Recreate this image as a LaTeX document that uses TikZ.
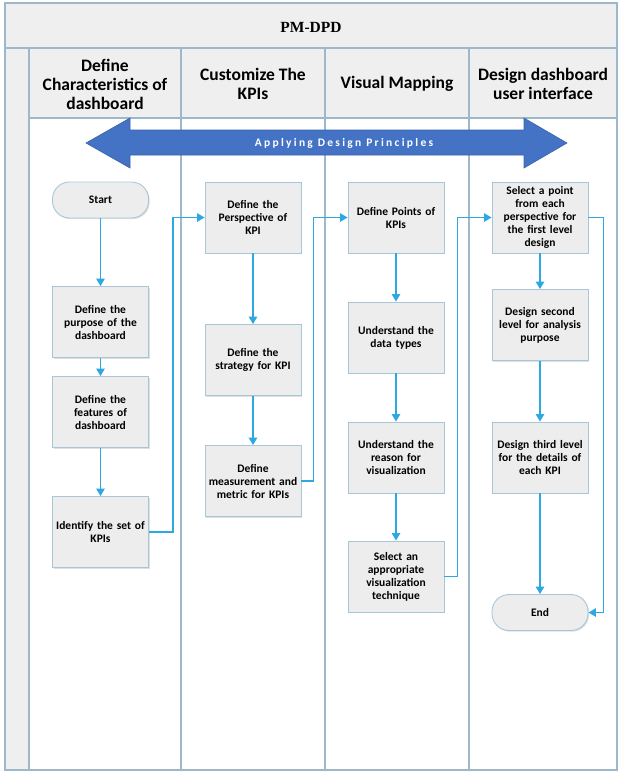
\documentclass[tikz,border=0pt]{standalone}
\usepackage{fontspec}
\setmainfont{Carlito}
\newfontfamily\timesbf{Liberation Serif}
\usetikzlibrary{arrows.meta,shadows}
\definecolor{laneline}{HTML}{9DB8CA}
\definecolor{lanefill}{HTML}{EFEFEF}
\definecolor{boxborder}{HTML}{A8C6DA}
\definecolor{boxfill}{HTML}{EDEDED}
\definecolor{flowblue}{HTML}{2EA8E2}
\definecolor{bannerblue}{HTML}{4472C4}
\definecolor{bannerdark}{HTML}{3A62AA}
\begin{document}
\begin{tikzpicture}[x=1pt,y=-1pt,
  stepbox/.style={draw=boxborder, fill=boxfill, line width=0.9pt,
    minimum width=96pt, minimum height=71pt, inner sep=0pt, text width=95pt,
    align=center, font=\bfseries\fontsize{11.5}{13}\selectfont,
    drop shadow={shadow xshift=1.2pt, shadow yshift=-1.2pt, opacity=0.25}},
  termbox/.style={stepbox, rounded corners=17pt, minimum height=36pt},
  flow/.style={draw=flowblue, line width=1.2pt, -{Triangle[width=8.5pt,length=7.5pt]}},
  hdr/.style={font=\bfseries\fontsize{17.5}{19}\selectfont, align=center},
  lane/.style={draw=laneline, line width=1.3pt},
]
\useasboundingbox (0,0) rectangle (624,777);
% pool
\fill[lanefill] (5,3) rectangle (617,48);
\fill[lanefill] (29,48) rectangle (617,118);
\fill[lanefill] (5,48) rectangle (29,770);
\draw[lane] (5,3) rectangle (617,770);
\draw[lane] (5,48) -- (617,48);
\draw[lane] (29,118) -- (617,118);
\foreach \x in {29,181,325,469} \draw[lane] (\x,48) -- (\x,770);
\node[font=\timesbf\bfseries\fontsize{15.5}{18}\selectfont] (title) at (311,27) {PM-DPD};
\node[hdr] (h1) at (105,84) {Define\\Characteristics of\\dashboard};
\node[hdr] (h2) at (253,84) {Customize The\\KPIs};
\node[hdr] (h3) at (397,84) {Visual Mapping};
\node[hdr] (h4) at (543,84) {Design dashboard\\user interface};
% banner
\filldraw[fill=bannerblue, draw=bannerdark, line width=0.6pt]
  (86,143) -- (130,118) -- (130,130) -- (524,130) -- (524,118) -- (567,143)
  -- (524,168) -- (524,155) -- (130,155) -- (130,168) -- cycle;
\node[text=white, font=\bfseries\fontsize{11.5}{13}\selectfont\addfontfeatures{LetterSpace=20}] (banner) at (344,143) {Applying Design Principles};
% lane 1
\node[termbox] (start) at (100.5,200) {Start};
\node[stepbox] (purpose) at (100.5,322) {Define the\\purpose of the\\dashboard};
\node[stepbox] (features) at (100.5,412) {Define the\\features of\\dashboard};
\node[stepbox] (identify) at (100.5,532) {Identify the set of\\KPIs};
% lane 2
\node[stepbox] (persp) at (253,217.5) {Define the\\Perspective of\\KPI};
\node[stepbox] (strategy) at (253,360) {Define the\\strategy for KPI};
\node[stepbox] (measure) at (253,481) {Define\\measurement and\\metric for KPIs};
% lane 3
\node[stepbox] (points) at (396,217.5) {Define Points of\\KPIs};
\node[stepbox] (datatypes) at (396,337.5) {Understand the\\data types};
\node[stepbox] (reason) at (396,457.5) {Understand the\\reason for\\visualization};
\node[stepbox] (select) at (396,576.5) {Select an\\appropriate\\visualization\\technique};
% lane 4
\node[stepbox] (first) at (540,217.5) {Select a point\\from each\\perspective for\\the first level\\design};
\node[stepbox] (second) at (540,325) {Design second\\level for analysis\\purpose};
\node[stepbox] (third) at (540,457.5) {Design third level\\for the details of\\each KPI};
\node[termbox] (end) at (540,612.5) {End};
% connectors
\draw[flow] (start) -- (purpose);
\draw[flow] (purpose) -- (features);
\draw[flow] (features) -- (identify);
\draw[flow] (identify.east) -- ++(24,0) |- (persp.west);
\draw[flow] (persp) -- (strategy);
\draw[flow] (strategy) -- (measure);
\draw[flow] (measure.east) -- ++(12,0) |- (points.west);
\draw[flow] (points) -- (datatypes);
\draw[flow] (datatypes) -- (reason);
\draw[flow] (reason) -- (select);
\draw[flow] (select.east) -- ++(13,0) |- (first.west);
\draw[flow] (first) -- (second);
\draw[flow] (second) -- (third);
\draw[flow] (third) -- (end);
\draw[flow] (first.east) -- ++(15,0) |- (end.east);
\end{tikzpicture}
\end{document}
